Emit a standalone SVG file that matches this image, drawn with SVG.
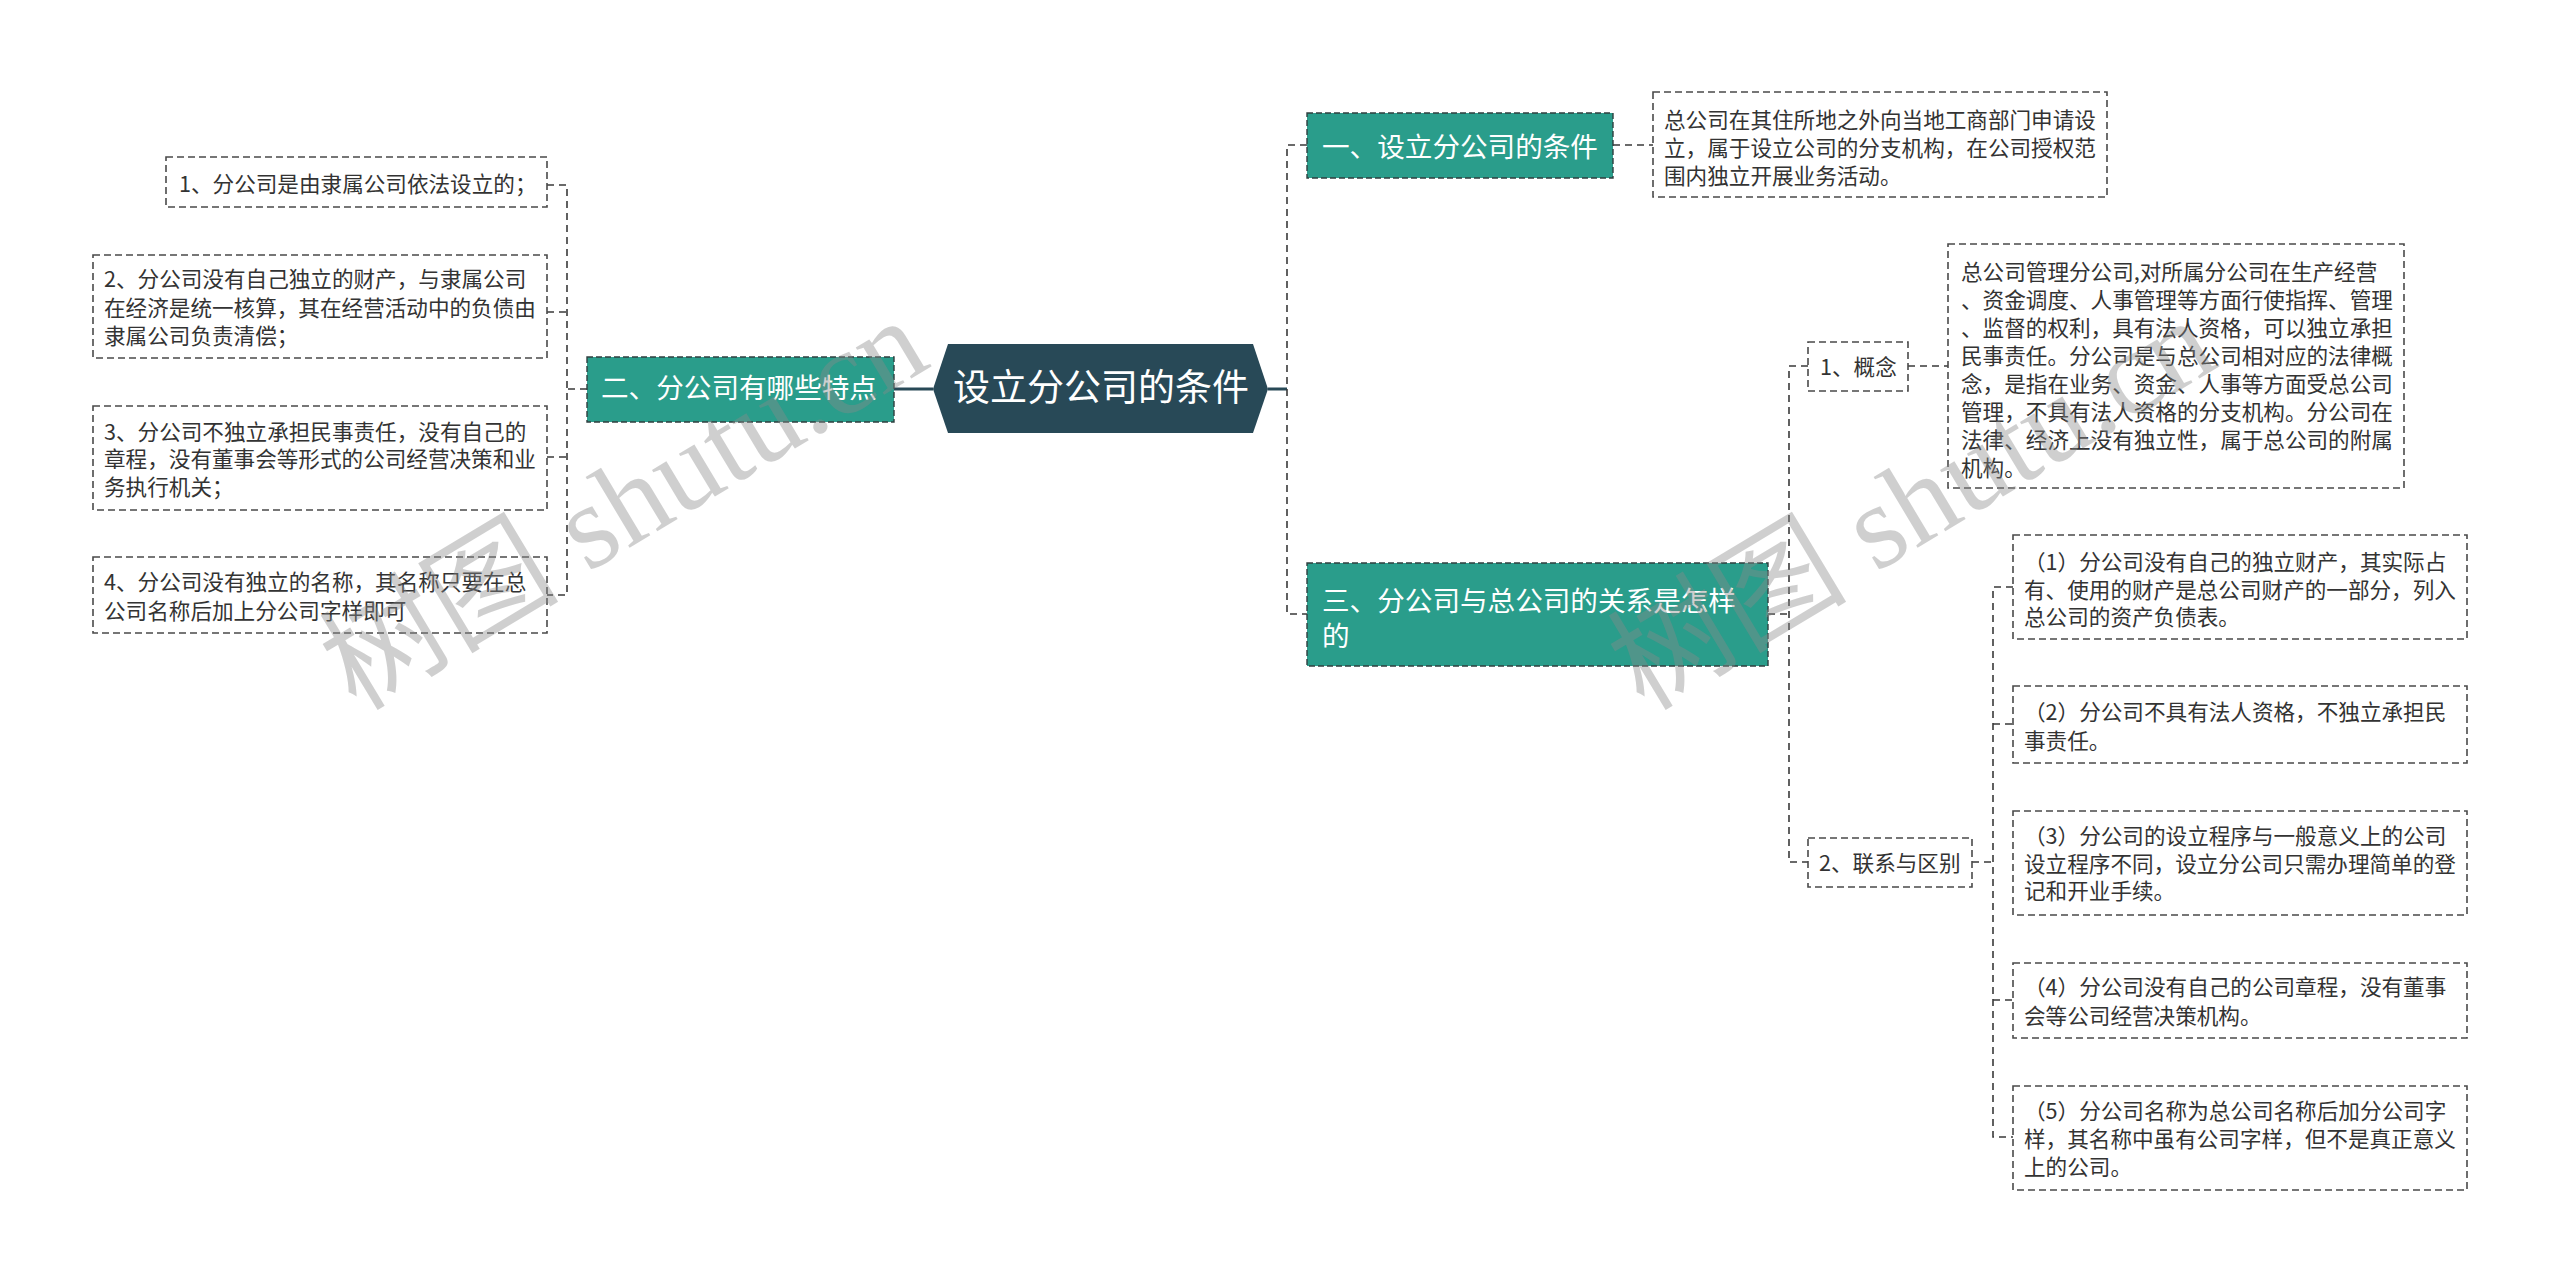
<svg xmlns="http://www.w3.org/2000/svg" width="2560" height="1283" viewBox="0 0 2560 1283">
<style>
text{font-family:"Noto Sans CJK SC","Liberation Sans",sans-serif}
.box{fill:#fff;stroke:#4a4a4a;stroke-width:1.6;stroke-dasharray:7 4}
.teal{fill:#2a9d8b;stroke:#2f3f3f;stroke-width:1.4;stroke-dasharray:6 3}
.root{fill:#284957}
.t{fill:#333;font-size:21.6px}
.tw{fill:#fff;font-size:27.6px}
.tr{fill:#fff;font-size:37px}
.dash{fill:none;stroke:#3a3a3a;stroke-width:1.6;stroke-dasharray:7 5}
.solid{fill:none;stroke:#284957;stroke-width:3}
.wm{font-family:"Liberation Serif","Noto Sans CJK SC",serif;font-size:120px;fill:#8a8a8a;opacity:0.4}
</style>
<rect width="2560" height="1283" fill="#fff"/>
<g id="connectors">
<path class="solid" d="M894 389H933M1268 389H1287"/>
<path class="dash" d="M587 389H567M547 185H567V595H547M547 312H567M547 457H567"/>
<path class="dash" d="M1307 145H1287V614H1307M1613 145H1653"/>
<path class="dash" d="M1768 614H1789M1808 366H1789V862H1808M1908 366H1948"/>
<path class="dash" d="M1972 862H1993M2013 587H1993V1137H2013M1993 724H2013M1993 1000H2013"/>
</g>
<g id="root">
<polygon class="root" points="933,389 948,344 1253,344 1268,389 1253,433 948,433"/>
<text class="tr" x="953" y="401">设立分公司的条件</text>
</g>
<g id="n2">
<rect class="teal" x="587" y="357" width="307" height="65"/>
<text class="tw" x="601" y="397.5">二、分公司有哪些特点</text>
</g>
<g id="n2-1">
<rect class="box" x="166" y="157" width="381" height="50"/>
<text class="t" x="179" y="192">1、分公司是由隶属公司依法设立的；</text>
</g>
<g id="n2-2">
<rect class="box" x="93" y="255" width="454" height="103"/>
<text class="t" x="104" y="287">2、分公司没有自己独立的财产，与隶属公司</text>
<text class="t" x="104" y="316">在经济是统一核算，其在经营活动中的负债由</text>
<text class="t" x="104" y="344">隶属公司负责清偿；</text>
</g>
<g id="n2-3">
<rect class="box" x="93" y="406" width="454" height="104"/>
<text class="t" x="104" y="440">3、分公司不独立承担民事责任，没有自己的</text>
<text class="t" x="104" y="467">章程，没有董事会等形式的公司经营决策和业</text>
<text class="t" x="104" y="495">务执行机关；</text>
</g>
<g id="n2-4">
<rect class="box" x="93" y="557" width="454" height="76"/>
<text class="t" x="104" y="590">4、分公司没有独立的名称，其名称只要在总</text>
<text class="t" x="104" y="619">公司名称后加上分公司字样即可</text>
</g>
<g id="n1">
<rect class="teal" x="1307" y="113" width="306" height="65"/>
<text class="tw" x="1322" y="157">一、设立分公司的条件</text>
</g>
<g id="n1-1">
<rect class="box" x="1653" y="92" width="454" height="105"/>
<text class="t" x="1664" y="128">总公司在其住所地之外向当地工商部门申请设</text>
<text class="t" x="1664" y="156">立，属于设立公司的分支机构，在公司授权范</text>
<text class="t" x="1664" y="184">围内独立开展业务活动。</text>
</g>
<g id="n3">
<rect class="teal" x="1307" y="563" width="461" height="103"/>
<text class="tw" x="1322" y="611">三、分公司与总公司的关系是怎样</text>
<text class="tw" x="1322" y="646">的</text>
</g>
<g id="n3-1">
<rect class="box" x="1808" y="342" width="100" height="49"/>
<text class="t" x="1820" y="375">1、概念</text>
</g>
<g id="n3-1-1">
<rect class="box" x="1948" y="244" width="456" height="244"/>
<text class="t" x="1961" y="280">总公司管理分公司,对所属分公司在生产经营</text>
<text class="t" x="1961" y="308">、资金调度、人事管理等方面行使指挥、管理</text>
<text class="t" x="1961" y="336">、监督的权利，具有法人资格，可以独立承担</text>
<text class="t" x="1961" y="364">民事责任。分公司是与总公司相对应的法律概</text>
<text class="t" x="1961" y="392">念，是指在业务、资金、人事等方面受总公司</text>
<text class="t" x="1961" y="420">管理，不具有法人资格的分支机构。分公司在</text>
<text class="t" x="1961" y="448">法律、经济上没有独立性，属于总公司的附属</text>
<text class="t" x="1961" y="476">机构。</text>
</g>
<g id="n3-2">
<rect class="box" x="1808" y="838" width="164" height="49"/>
<text class="t" x="1819" y="871">2、联系与区别</text>
</g>
<g id="n3-2-1">
<rect class="box" x="2013" y="535" width="454" height="104"/>
<text class="t" x="2024" y="570">（1）分公司没有自己的独立财产，其实际占</text>
<text class="t" x="2024" y="598">有、使用的财产是总公司财产的一部分，列入</text>
<text class="t" x="2024" y="625">总公司的资产负债表。</text>
</g>
<g id="n3-2-2">
<rect class="box" x="2013" y="686" width="454" height="77"/>
<text class="t" x="2024" y="720">（2）分公司不具有法人资格，不独立承担民</text>
<text class="t" x="2024" y="749">事责任。</text>
</g>
<g id="n3-2-3">
<rect class="box" x="2013" y="811" width="454" height="104"/>
<text class="t" x="2024" y="844">（3）分公司的设立程序与一般意义上的公司</text>
<text class="t" x="2024" y="872">设立程序不同，设立分公司只需办理简单的登</text>
<text class="t" x="2024" y="899">记和开业手续。</text>
</g>
<g id="n3-2-4">
<rect class="box" x="2013" y="963" width="454" height="75"/>
<text class="t" x="2024" y="995">（4）分公司没有自己的公司章程，没有董事</text>
<text class="t" x="2024" y="1024">会等公司经营决策机构。</text>
</g>
<g id="n3-2-5">
<rect class="box" x="2013" y="1086" width="454" height="104"/>
<text class="t" x="2024" y="1119">（5）分公司名称为总公司名称后加分公司字</text>
<text class="t" x="2024" y="1147">样，其名称中虽有公司字样，但不是真正意义</text>
<text class="t" x="2024" y="1175">上的公司。</text>
</g>
<g id="watermark">
<text class="wm" transform="translate(356,712) rotate(-31)">树图 shutu.cn</text>
<text class="wm" transform="translate(1644,712) rotate(-31)">树图 shutu.cn</text>
</g>
</svg>
